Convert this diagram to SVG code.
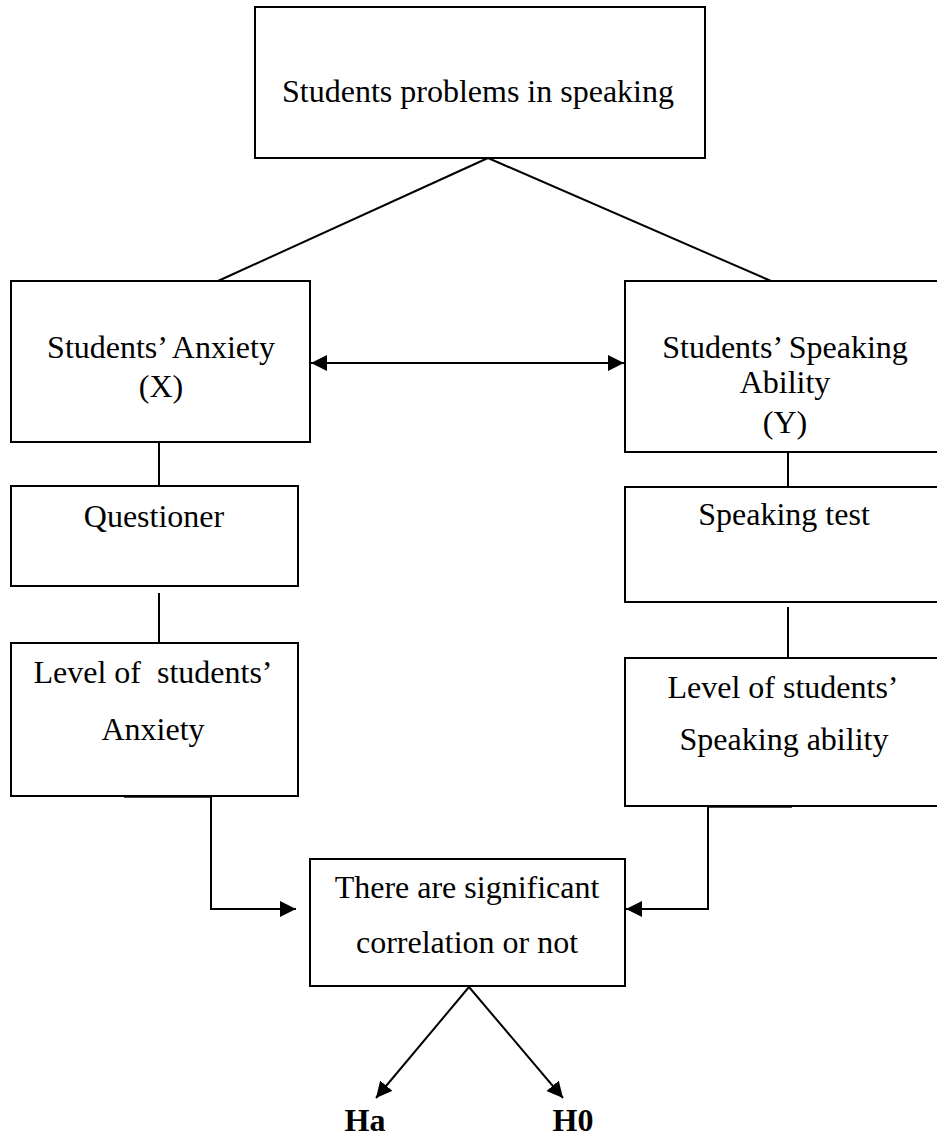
<svg xmlns="http://www.w3.org/2000/svg" width="937" height="1139" viewBox="0 0 937 1139">
<style>
.box{fill:#fff;stroke:#000;stroke-width:2}
.ln{fill:none;stroke:#000;stroke-width:2}
.gr{fill:none;stroke:#444;stroke-width:2}
text{font-family:"Liberation Serif","Times New Roman",serif;font-size:32px;fill:#000;text-anchor:middle}
.b{font-weight:bold}
</style>
<defs>
<marker id="ah" viewBox="0 0 10 10" refX="10" refY="5" markerWidth="8" markerHeight="8" markerUnits="strokeWidth" orient="auto-start-reverse">
<path d="M0,0 L10,5 L0,10 z" fill="#000"/>
</marker>
</defs>
<rect width="937" height="1139" fill="#fff"/>
<g id="connectors">
<line class="ln" x1="488" y1="158" x2="218" y2="281"/>
<line class="ln" x1="488" y1="158" x2="771" y2="281"/>
<line class="ln" x1="311" y1="363" x2="624" y2="363" marker-start="url(#ah)" marker-end="url(#ah)"/>
<line class="ln" x1="159" y1="442" x2="159" y2="486"/>
<line class="ln" x1="159" y1="593" x2="159" y2="643"/>
<line class="ln" x1="788" y1="452" x2="788" y2="487"/>
<line class="ln" x1="788" y1="607" x2="788" y2="658"/>
<line class="gr" x1="124" y1="797" x2="212" y2="797"/>
<polyline class="ln" points="211,797 211,909 296,909" marker-end="url(#ah)"/>
<line class="gr" x1="708" y1="807" x2="792" y2="807"/>
<polyline class="ln" points="708,807 708,909 626,909" marker-end="url(#ah)"/>
<line class="ln" x1="469" y1="987" x2="376" y2="1098" marker-end="url(#ah)"/>
<line class="ln" x1="469" y1="987" x2="563" y2="1098" marker-end="url(#ah)"/>
</g>
<g id="n-problems">
<rect class="box" x="255" y="7" width="450" height="151"/>
<text x="478" y="102">Students problems in speaking</text>
</g>
<g id="n-anxiety">
<rect class="box" x="11" y="281" width="299" height="161"/>
<text x="161" y="358">Students’ Anxiety</text>
<text x="161" y="397">(X)</text>
</g>
<g id="n-ability">
<rect class="box" x="625" y="281" width="320" height="171"/>
<text x="785" y="358">Students’ Speaking</text>
<text x="785" y="393">Ability</text>
<text x="785" y="433">(Y)</text>
</g>
<g id="n-questioner">
<rect class="box" x="11" y="486" width="287" height="100"/>
<text x="154" y="527">Questioner</text>
</g>
<g id="n-test">
<rect class="box" x="625" y="487" width="320" height="115"/>
<text x="784" y="525">Speaking test</text>
</g>
<g id="n-level-anxiety">
<rect class="box" x="11" y="643" width="287" height="153"/>
<text x="153" y="683" xml:space="preserve">Level of  students’</text>
<text x="153" y="740">Anxiety</text>
</g>
<g id="n-level-ability">
<rect class="box" x="625" y="658" width="320" height="148"/>
<text x="783" y="698">Level of students’</text>
<text x="784" y="750">Speaking ability</text>
</g>
<g id="n-correlation">
<rect class="box" x="310" y="859" width="315" height="127"/>
<text x="467" y="898">There are significant</text>
<text x="467" y="953">correlation or not</text>
</g>
<g id="n-ha">
<text class="b" x="365" y="1131">Ha</text>
</g>
<g id="n-h0">
<text class="b" x="573" y="1131">H0</text>
</g>
</svg>
